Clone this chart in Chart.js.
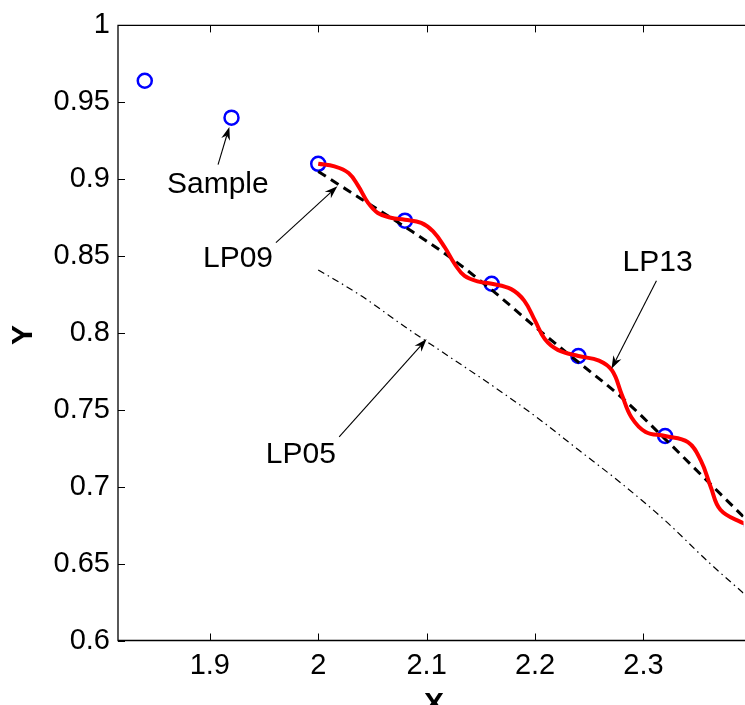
<!DOCTYPE html>
<html>
<head>
<meta charset="utf-8">
<script src="https://cdn.jsdelivr.net/npm/chart.js@4.4.1/dist/chart.umd.min.js"></script>
<style>
  html, body { margin: 0; padding: 0; background: #fff; overflow: hidden; }
  /* a bit wider than the window: the right edge of the axes runs off the picture */
  #wrap { width: 753px; height: 705px; position: relative; }
</style>
</head>
<body>
<div id="wrap"><canvas id="lpChart"></canvas></div>
<script>
// samples (blue circles)
const sampleX = [1.84, 1.92, 2.00, 2.08, 2.16, 2.24, 2.32, 2.40];
const sampleY = [0.964, 0.940, 0.910, 0.873, 0.832, 0.785, 0.733, 0.675];

// LP13 (red, wavy)
const lp13X = [2.000, 2.015, 2.028, 2.037, 2.046, 2.055, 2.067, 2.080, 2.095, 2.106, 2.117,
               2.126, 2.135, 2.148, 2.160, 2.178, 2.190, 2.200, 2.209, 2.221, 2.240, 2.259,
               2.271, 2.280, 2.289, 2.302, 2.320, 2.341, 2.353, 2.362, 2.371, 2.390, 2.400];
const lp13Y = [0.910, 0.9083, 0.904, 0.8955, 0.8846, 0.878, 0.8749, 0.8736, 0.8716, 0.866, 0.8554,
               0.8447, 0.8371, 0.8334, 0.832, 0.8285, 0.821, 0.808, 0.796, 0.789, 0.785, 0.782,
               0.7756, 0.760, 0.745, 0.7356, 0.733, 0.729, 0.717, 0.700, 0.685, 0.677, 0.675];

// LP09 (black dashed)
const lp09X = [2.00, 2.04, 2.08, 2.12, 2.16, 2.20, 2.24, 2.28, 2.32, 2.36, 2.40];
const lp09Y = [0.905, 0.887, 0.869, 0.850, 0.828, 0.804, 0.781, 0.758, 0.731, 0.703, 0.675];

// LP05 (black dash-dot)
const lp05X = [2.00, 2.04, 2.08, 2.12, 2.16, 2.20, 2.24, 2.28, 2.32, 2.36, 2.40];
const lp05Y = [0.841, 0.824, 0.804, 0.785, 0.766, 0.746, 0.724, 0.702, 0.678, 0.651, 0.626];

// tick labels
const xTicks = [1.9, 2.0, 2.1, 2.2, 2.3];
const xTickLabels = ['1.9', '2', '2.1', '2.2', '2.3'];
const yTicks = [0.6, 0.65, 0.7, 0.75, 0.8, 0.85, 0.9, 0.95, 1.0];
const yTickLabels = ['0.6', '0.65', '0.7', '0.75', '0.8', '0.85', '0.9', '0.95', '1'];

// text callouts: label anchor, arrow tail, arrow tip (data units)
const callouts = [
  { text: 'Sample', at: [1.9074, 0.8967], from: [1.9076, 0.9095], to: [1.918, 0.934] },
  { text: 'LP09',   at: [1.926, 0.848],   from: [1.961, 0.8587],  to: [2.0177, 0.8954] },
  { text: 'LP13',   at: [2.313, 0.8457],  from: [2.312, 0.834],   to: [2.2705, 0.7767] },
  { text: 'LP05',   at: [1.984, 0.7205],  from: [2.0193, 0.7324], to: [2.1, 0.796] }
];

const FONT = '"Liberation Sans", Arial, Helvetica, sans-serif';
const toXY = (xs, ys) => xs.map((v, i) => ({ x: v, y: ys[i] }));

function arrow(ctx, x0, y0, x1, y1) {
  const ang = Math.atan2(y1 - y0, x1 - x0);
  const len = 13, half = 4.5, notch = 9;
  ctx.beginPath();
  ctx.moveTo(x0, y0);
  ctx.lineTo(x1 - Math.cos(ang) * notch, y1 - Math.sin(ang) * notch);
  ctx.stroke();
  const bx = x1 - Math.cos(ang) * len, by = y1 - Math.sin(ang) * len;
  const nx = -Math.sin(ang) * half, ny = Math.cos(ang) * half;
  ctx.beginPath();
  ctx.moveTo(x1, y1);
  ctx.lineTo(bx + nx, by + ny);
  ctx.lineTo(x1 - Math.cos(ang) * notch, y1 - Math.sin(ang) * notch);
  ctx.lineTo(bx - nx, by - ny);
  ctx.closePath();
  ctx.fill();
}

const framePlugin = {
  id: 'frame',
  afterDraw(chart) {
    const { ctx, chartArea: a, scales: { x, y } } = chart;
    ctx.save();
    ctx.strokeStyle = '#000';
    ctx.fillStyle = '#000';

    // axes box (right side falls off the picture)
    ctx.lineWidth = 1.3;
    ctx.beginPath();
    ctx.moveTo(a.right + 2, a.top);
    ctx.lineTo(a.left, a.top);
    ctx.lineTo(a.left, a.bottom);
    ctx.lineTo(a.right + 2, a.bottom);
    ctx.stroke();

    // inward ticks
    ctx.lineWidth = 1;
    const tl = 7;
    ctx.beginPath();
    xTicks.forEach(v => {
      const px = Math.round(x.getPixelForValue(v)) + 0.5;
      ctx.moveTo(px, a.bottom); ctx.lineTo(px, a.bottom - tl);
      ctx.moveTo(px, a.top); ctx.lineTo(px, a.top + tl);
    });
    yTicks.forEach(v => {
      const py = Math.round(y.getPixelForValue(v)) + 0.5;
      ctx.moveTo(a.left, py); ctx.lineTo(a.left + tl, py);
    });
    ctx.stroke();

    // callouts
    ctx.font = '30px ' + FONT;
    ctx.textAlign = 'center';
    ctx.textBaseline = 'middle';
    ctx.lineWidth = 1.1;
    callouts.forEach(c => {
      ctx.fillText(c.text, x.getPixelForValue(c.at[0]), y.getPixelForValue(c.at[1]));
      arrow(ctx,
        x.getPixelForValue(c.from[0]), y.getPixelForValue(c.from[1]),
        x.getPixelForValue(c.to[0]), y.getPixelForValue(c.to[1]));
    });

    // axis titles
    ctx.font = 'bold 30px ' + FONT;
    ctx.fillText('X', 434, 705);
    ctx.save();
    ctx.translate(24, (a.top + a.bottom) / 2 + 2);
    ctx.rotate(-Math.PI / 2);
    ctx.fillText('Y', 0, 0);
    ctx.restore();

    ctx.restore();
  }
};

new Chart('lpChart', {
  type: 'line',
  data: {
    datasets: [
      {
        label: 'LP13',
        data: toXY(lp13X, lp13Y),
        borderColor: '#ff0000',
        borderWidth: 4,
        pointRadius: 0,
        tension: 0.4,
        order: 1
      },
      {
        label: 'LP09',
        data: toXY(lp09X, lp09Y),
        borderColor: '#000000',
        borderWidth: 3,
        borderDash: [9, 6],
        pointRadius: 0,
        cubicInterpolationMode: 'monotone',
        order: 2
      },
      {
        label: 'LP05',
        data: toXY(lp05X, lp05Y),
        borderColor: '#000000',
        borderWidth: 1.2,
        borderDash: [7, 4, 1.5, 4],
        pointRadius: 0,
        cubicInterpolationMode: 'monotone',
        order: 3
      },
      {
        label: 'Sample',
        data: toXY(sampleX, sampleY),
        showLine: false,
        pointStyle: 'circle',
        pointRadius: 7,
        pointBorderWidth: 2.5,
        borderColor: '#0000ff',
        backgroundColor: 'rgba(0,0,0,0)',
        order: 4
      }
    ]
  },
  options: {
    responsive: true,
    maintainAspectRatio: false,
    animation: false,
    layout: { padding: { top: 23.5, right: 0, left: 0, bottom: 0 } },
    plugins: {
      legend: { display: false },
      tooltip: { enabled: false }
    },
    scales: {
      x: {
        type: 'linear',
        min: 1.8153,
        max: 2.3923,
        afterBuildTicks: s => { s.ticks = xTicks.map(v => ({ value: v })); },
        afterFit: s => { s.height = 64.5; },
        ticks: {
          padding: 8,
          maxRotation: 0,
          autoSkip: false,
          color: '#000',
          font: { family: FONT, size: 29 },
          callback: (v) => xTickLabels[xTicks.indexOf(v)]
        },
        grid: { display: false, drawTicks: false },
        border: { display: false }
      },
      y: {
        type: 'linear',
        min: 0.6,
        max: 1.0,
        afterBuildTicks: s => { s.ticks = yTicks.map(v => ({ value: v })); },
        afterFit: s => { s.width = 118; },
        ticks: {
          padding: 8,
          autoSkip: false,
          color: '#000',
          font: { family: FONT, size: 29 },
          callback: (v) => yTickLabels[yTicks.findIndex(t => Math.abs(t - v) < 1e-9)]
        },
        grid: { display: false, drawTicks: false },
        border: { display: false }
      }
    }
  },
  plugins: [framePlugin]
});
</script>
</body>
</html>
